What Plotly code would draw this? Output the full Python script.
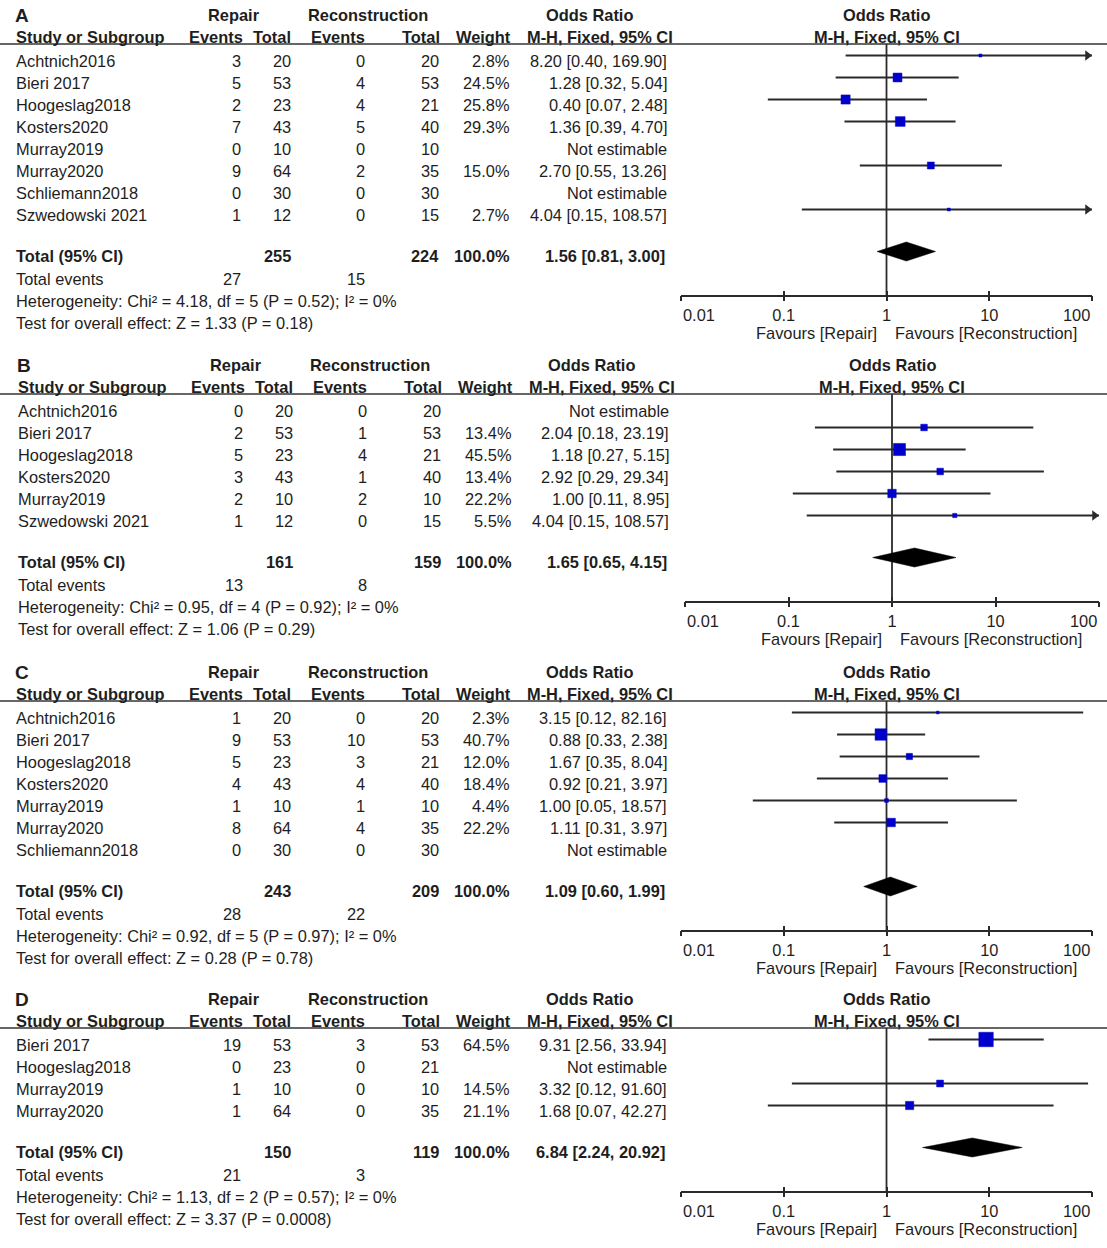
import plotly.graph_objects as go

W, H = 1107, 1248
FONT = "Liberation Sans, Arial, Helvetica, sans-serif"
FS = 16.4
TXT = "#1e1e1e"
LINE = "#2a2a2a"
LW = 1.8
BLUE = "#0000CC"

# ---------------- data ----------------
panel_labels = ["A", "B", "C", "D"]

studies_A = ["Achtnich2016", "Bieri 2017", "Hoogeslag2018", "Kosters2020", "Murray2019",
             "Murray2020", "Schliemann2018", "Szwedowski 2021"]
rep_ev_A = [3, 5, 2, 7, 0, 9, 0, 1]
rep_tot_A = [20, 53, 23, 43, 10, 64, 30, 12]
rec_ev_A = [0, 4, 4, 5, 0, 2, 0, 0]
rec_tot_A = [20, 53, 21, 40, 10, 35, 30, 15]
weight_A = [2.8, 24.5, 25.8, 29.3, None, 15.0, None, 2.7]
or_A = [8.20, 1.28, 0.40, 1.36, None, 2.70, None, 4.04]
lo_A = [0.40, 0.32, 0.07, 0.39, None, 0.55, None, 0.15]
hi_A = [169.90, 5.04, 2.48, 4.70, None, 13.26, None, 108.57]

studies_B = ["Achtnich2016", "Bieri 2017", "Hoogeslag2018", "Kosters2020", "Murray2019",
             "Szwedowski 2021"]
rep_ev_B = [0, 2, 5, 3, 2, 1]
rep_tot_B = [20, 53, 23, 43, 10, 12]
rec_ev_B = [0, 1, 4, 1, 2, 0]
rec_tot_B = [20, 53, 21, 40, 10, 15]
weight_B = [None, 13.4, 45.5, 13.4, 22.2, 5.5]
or_B = [None, 2.04, 1.18, 2.92, 1.00, 4.04]
lo_B = [None, 0.18, 0.27, 0.29, 0.11, 0.15]
hi_B = [None, 23.19, 5.15, 29.34, 8.95, 108.57]

studies_C = ["Achtnich2016", "Bieri 2017", "Hoogeslag2018", "Kosters2020", "Murray2019",
             "Murray2020", "Schliemann2018"]
rep_ev_C = [1, 9, 5, 4, 1, 8, 0]
rep_tot_C = [20, 53, 23, 43, 10, 64, 30]
rec_ev_C = [0, 10, 3, 4, 1, 4, 0]
rec_tot_C = [20, 53, 21, 40, 10, 35, 30]
weight_C = [2.3, 40.7, 12.0, 18.4, 4.4, 22.2, None]
or_C = [3.15, 0.88, 1.67, 0.92, 1.00, 1.11, None]
lo_C = [0.12, 0.33, 0.35, 0.21, 0.05, 0.31, None]
hi_C = [82.16, 2.38, 8.04, 3.97, 18.57, 3.97, None]

studies_D = ["Bieri 2017", "Hoogeslag2018", "Murray2019", "Murray2020"]
rep_ev_D = [19, 0, 1, 1]
rep_tot_D = [53, 23, 10, 64]
rec_ev_D = [3, 0, 0, 0]
rec_tot_D = [53, 21, 10, 35]
weight_D = [64.5, None, 14.5, 21.1]
or_D = [9.31, None, 3.32, 1.68]
lo_D = [2.56, None, 0.12, 0.07]
hi_D = [33.94, None, 91.60, 42.27]

pooled_or = [1.56, 1.65, 1.09, 6.84]
pooled_lo = [0.81, 0.65, 0.60, 2.24]
pooled_hi = [3.00, 4.15, 1.99, 20.92]
het_chi2 = ["4.18", "0.95", "0.92", "1.13"]
het_df = [5, 4, 5, 2]
het_p = ["0.52", "0.92", "0.97", "0.57"]
het_i2 = [0, 0, 0, 0]
z_val = ["1.33", "1.06", "0.28", "3.37"]
z_p = ["0.18", "0.29", "0.78", "0.0008"]

group_headers = ["Repair", "Reconstruction", "Odds Ratio"]
col_headers = ["Study or Subgroup", "Events", "Total", "Events", "Total", "Weight",
               "M-H, Fixed, 95% CI"]
plot_headers = ["Odds Ratio", "M-H, Fixed, 95% CI"]
tick_vals = [0.01, 0.1, 1, 10, 100]
tick_text = ["0.01", "0.1", "1", "10", "100"]
favours = ["Favours [Repair]", "Favours [Reconstruction]"]

# ---------------- layout constants ----------------
panels = [
    dict(top=15, dx=0, px=(681, 1092), studies=studies_A, re=rep_ev_A, rt=rep_tot_A,
         ce=rec_ev_A, ct=rec_tot_A, w=weight_A, orr=or_A, lo=lo_A, hi=hi_A),
    dict(top=365, dx=2, px=(685, 1099), studies=studies_B, re=rep_ev_B, rt=rep_tot_B,
         ce=rec_ev_B, ct=rec_tot_B, w=weight_B, orr=or_B, lo=lo_B, hi=hi_B),
    dict(top=672, dx=0, px=(681, 1092), studies=studies_C, re=rep_ev_C, rt=rep_tot_C,
         ce=rec_ev_C, ct=rec_tot_C, w=weight_C, orr=or_C, lo=lo_C, hi=hi_C),
    dict(top=999, dx=0, px=(681, 1092), studies=studies_D, re=rep_ev_D, rt=rep_tot_D,
         ce=rec_ev_D, ct=rec_tot_D, w=weight_D, orr=or_D, lo=lo_D, hi=hi_D),
]
XMIN, XMAX = 0.01, 100
LOG_RANGE = [-2, 2]
ROW = 22
COL_NAME = 14
COL_VALS = [243, 293, 367, 441, 511, 669]
COL_HDR = [245, 293, 367, 442, 513, 675]
GRP_CENTERS = [234, 368, 589]
SQ_SCALE = 1.8
ARROW_SIZE = 9
ARROW_TIP_PX = 4.5
TICKLABEL_DY = 19

fig = go.Figure()
annotations = []
shapes = []


def ann(x, y, text, anchor="right", size=FS, bold=False, xref="x", xshift=0):
    annotations.append(dict(
        x=x, y=y, xref=xref, yref="y", text=(f"<b>{text}</b>" if bold else text),
        showarrow=False, xanchor=anchor, yanchor="middle", xshift=xshift,
        font=dict(family=FONT, size=size, color=TXT)))


for i, p in enumerate(panels):
    dx = p["dx"]
    top = p["top"]
    row2 = top + 22
    line_y = top + 29
    first = top + 45.5
    n = len(p["studies"])
    rows_y = [first + k * ROW for k in range(n)]
    total_y = rows_y[-1] + 41
    events_y = total_y + 23.5
    het_y = events_y + 22
    test_y = het_y + 22
    axis_y = total_y + 40
    xa = f"x{2 + i}"
    decade_px = (p["px"][1] - p["px"][0]) / (LOG_RANGE[1] - LOG_RANGE[0])

    # header
    ann(13 + dx, top, panel_labels[i], anchor="left", size=19, bold=True)
    for c, t in zip(GRP_CENTERS, group_headers):
        ann(c + dx, top, t, anchor="center", bold=True)
    ann(COL_NAME + dx, row2, col_headers[0], anchor="left", bold=True)
    for c, t in zip(COL_HDR, col_headers[1:]):
        ann(c + dx, row2, t, anchor="right", bold=True)
    ann(0, top, plot_headers[0], anchor="center", bold=True, xref=xa)
    ann(0, row2, plot_headers[1], anchor="center", bold=True, xref=xa)
    shapes.append(dict(type="line", xref="paper", yref="y", x0=0, x1=1, y0=line_y, y1=line_y,
                       line=dict(color="#333333", width=1.5)))

    # study rows
    for k in range(n):
        y = rows_y[k]
        ann(COL_NAME + dx, y, p["studies"][k], anchor="left")
        vals = [p["re"][k], p["rt"][k], p["ce"][k], p["ct"][k]]
        for c, v in zip(COL_VALS[:4], vals):
            ann(c + dx, y, str(v))
        if p["w"][k] is not None:
            ann(COL_VALS[4] + dx, y, f"{p['w'][k]:.1f}%")
            ann(COL_VALS[5] + dx, y, f"{p['orr'][k]:.2f} [{p['lo'][k]:.2f}, {p['hi'][k]:.2f}]")
        else:
            ann(COL_VALS[5] + dx, y, "Not estimable")

    # totals
    ann(COL_NAME + dx, total_y, "Total (95% CI)", anchor="left", bold=True)
    ann(COL_VALS[1] + dx, total_y, str(sum(p["rt"])), bold=True)
    ann(COL_VALS[3] + dx, total_y, str(sum(p["ct"])), bold=True)
    ann(COL_VALS[4] + dx + 1, total_y, "100.0%", bold=True)
    ann(COL_VALS[5] + dx - 2, total_y,
        f"{pooled_or[i]:.2f} [{pooled_lo[i]:.2f}, {pooled_hi[i]:.2f}]", bold=True)
    ann(COL_NAME + dx, events_y, "Total events", anchor="left")
    ann(COL_VALS[0] + dx, events_y, str(sum(p["re"])))
    ann(COL_VALS[2] + dx, events_y, str(sum(p["ce"])))
    ann(COL_NAME + dx, het_y,
        f"Heterogeneity: Chi² = {het_chi2[i]}, df = {het_df[i]} (P = {het_p[i]}); I² = {het_i2[i]}%",
        anchor="left")
    ann(COL_NAME + dx, test_y, f"Test for overall effect: Z = {z_val[i]} (P = {z_p[i]})",
        anchor="left")

    # end tick labels (inner-aligned like the original) and favours labels
    ann(LOG_RANGE[0], axis_y + TICKLABEL_DY, tick_text[0], anchor="left", xref=xa)
    ann(LOG_RANGE[1], axis_y + TICKLABEL_DY, tick_text[-1], anchor="right", xref=xa)
    ann(0, axis_y + 37, favours[0], anchor="right", xref=xa, xshift=-8)
    ann(0, axis_y + 37, favours[1], anchor="left", xref=xa, xshift=6)

    # plot: vertical line of no effect
    fig.add_trace(go.Scatter(x=[1, 1], y=[line_y, axis_y], mode="lines",
                             line=dict(color=LINE, width=LW), xaxis=xa, yaxis="y",
                             hoverinfo="skip", showlegend=False))
    # CI lines
    mx, my, ms, ax, ay = [], [], [], [], []
    for k in range(n):
        if p["orr"][k] is None:
            continue
        yk = rows_y[k] - 5
        hi = min(p["hi"][k], XMAX)
        lo = max(p["lo"][k], XMIN)
        fig.add_trace(go.Scatter(x=[lo, hi], y=[yk, yk], mode="lines",
                                 line=dict(color=LINE, width=LW), xaxis=xa, yaxis="y",
                                 hoverinfo="skip", showlegend=False, cliponaxis=False))
        if p["hi"][k] > XMAX:
            ax.append(XMAX / 10 ** (ARROW_TIP_PX / decade_px))
            ay.append(yk)
        mx.append(p["orr"][k])
        my.append(yk)
        ms.append(max(2.5, SQ_SCALE * p["w"][k] ** 0.5))
    if ax:
        fig.add_trace(go.Scatter(x=ax, y=ay, mode="markers",
                                 marker=dict(symbol="triangle-right", size=ARROW_SIZE,
                                             color=LINE, opacity=1, line=dict(width=0)),
                                 xaxis=xa, yaxis="y", cliponaxis=False,
                                 hoverinfo="skip", showlegend=False))
    fig.add_trace(go.Scatter(x=mx, y=my, mode="markers",
                             marker=dict(symbol="square", size=ms, color=BLUE, opacity=1,
                                         line=dict(width=0.5, color=BLUE)),
                             xaxis=xa, yaxis="y", hoverinfo="skip", showlegend=False))
    # pooled diamond
    yc = total_y - 4
    hh = 9.5
    fig.add_trace(go.Scatter(
        x=[pooled_lo[i], pooled_or[i], pooled_hi[i], pooled_or[i], pooled_lo[i]],
        y=[yc, yc - hh, yc, yc + hh, yc], mode="lines", fill="toself",
        fillcolor="#000000", line=dict(color="#000000", width=0.5),
        xaxis=xa, yaxis="y", hoverinfo="skip", showlegend=False))
    # empty trace for overlay tick axis (upper half of the crossing ticks)
    fig.add_trace(go.Scatter(x=[], y=[], xaxis=f"x{6 + i}", yaxis="y", showlegend=False))

    dom = [p["px"][0] / W, p["px"][1] / W]
    pos = 1 - axis_y / H
    inner_text = [""] + tick_text[1:-1] + [""]
    fig.layout[f"xaxis{2 + i}"] = dict(
        type="log", range=LOG_RANGE, domain=dom, anchor="free", position=pos,
        showline=True, linecolor=LINE, linewidth=LW, ticks="outside", ticklen=5,
        tickwidth=LW, tickcolor=LINE, tickvals=tick_vals, ticktext=inner_text,
        tickfont=dict(family=FONT, size=FS, color=TXT), showgrid=False, zeroline=False,
        fixedrange=True)
    fig.layout[f"xaxis{6 + i}"] = dict(
        type="log", range=LOG_RANGE, domain=dom, anchor="free", position=pos,
        overlaying=f"x{2 + i}", showline=False, ticks="inside", ticklen=5, tickwidth=LW,
        tickcolor=LINE, tickvals=tick_vals, showticklabels=False, showgrid=False,
        zeroline=False, fixedrange=True)

fig.update_layout(
    width=W, height=H, margin=dict(l=0, r=0, t=0, b=0, autoexpand=False),
    paper_bgcolor="white", plot_bgcolor="rgba(0,0,0,0)", showlegend=False,
    xaxis=dict(range=[0, W], domain=[0, 1], visible=False, anchor="y", fixedrange=True),
    yaxis=dict(range=[H, 0], domain=[0, 1], visible=False, anchor="x", fixedrange=True),
    annotations=annotations, shapes=shapes,
    font=dict(family=FONT, size=FS, color=TXT),
)

fig.write_html("out.html", config={"displayModeBar": False},
               post_script="document.body.style.margin='0';")
